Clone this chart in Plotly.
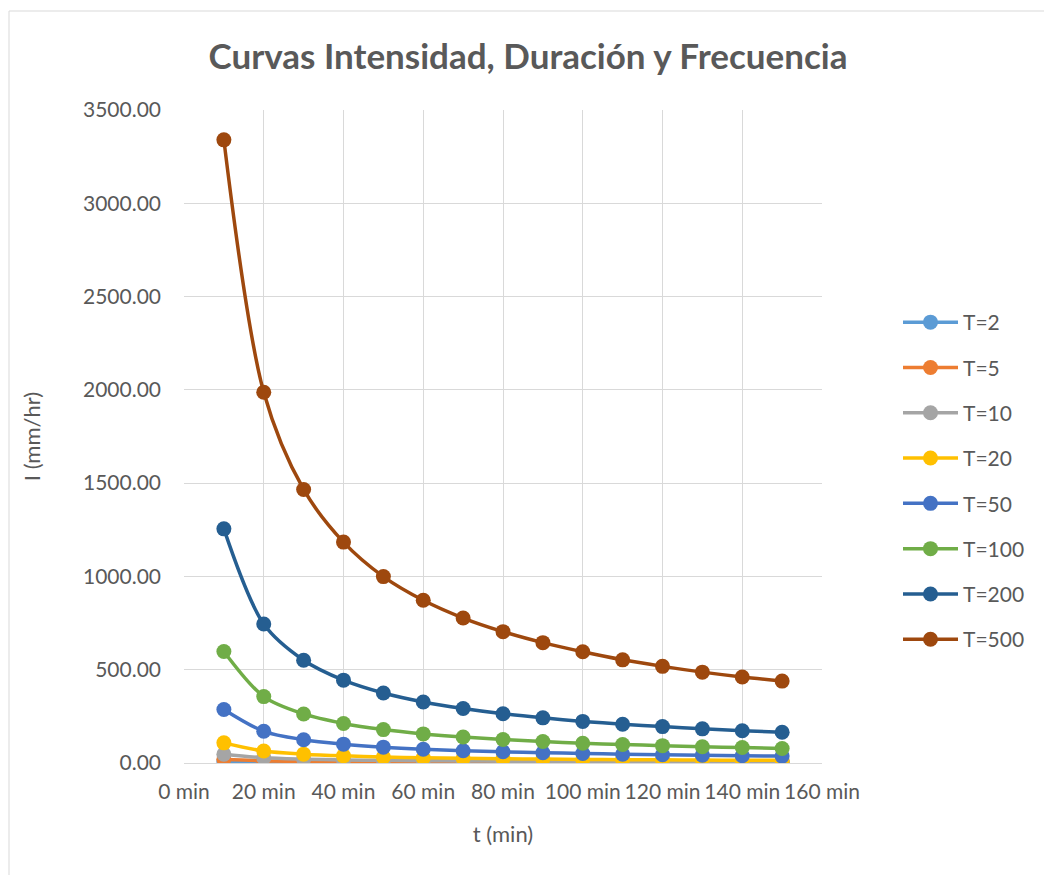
import plotly.graph_objects as go

t_min = [10, 20, 30, 40, 50, 60, 70, 80, 90, 100, 110, 120, 130, 140, 150]

series_names = ["T=2", "T=5", "T=10", "T=20", "T=50", "T=100", "T=200", "T=500"]
T2 = [8.3, 4.9, 3.6, 2.9, 2.5, 2.2, 1.9, 1.7, 1.6, 1.5, 1.4, 1.3, 1.2, 1.1, 1.1]
T5 = [20.5, 12.2, 9.0, 7.3, 6.1, 5.3, 4.8, 4.3, 4.0, 3.6, 3.4, 3.2, 3.0, 2.8, 2.7]
T10 = [47, 28, 20.6, 16.6, 14.1, 12.3, 10.9, 9.9, 9.0, 8.4, 7.8, 7.3, 6.9, 6.5, 6.2]
T20 = [108, 64, 47.4, 38.2, 32.3, 28.2, 25.1, 22.7, 20.8, 19.2, 17.9, 16.8, 15.8, 14.9, 14.2]
T50 = [287, 170, 125, 101, 85, 74, 66, 60, 55, 51, 47, 44, 42, 39, 37]
T100 = [598, 356, 263, 212, 179, 156, 139, 126, 115, 106, 99, 93, 87, 83, 78]
T200 = [1255, 745, 551, 444, 375, 327, 292, 264, 242, 223, 208, 195, 183, 173, 165]
T500 = [3340, 1987, 1466, 1184, 999, 872, 777, 704, 645, 596, 553, 518, 487, 461, 439]
series_values = [T2, T5, T10, T20, T50, T100, T200, T500]
colors = ["#5B9BD5", "#ED7D31", "#A5A5A5", "#FFC000", "#4472C4", "#70AD47", "#255E91", "#9E480E"]

x_ticks = [0, 20, 40, 60, 80, 100, 120, 140, 160]
y_ticks = [0, 500, 1000, 1500, 2000, 2500, 3000, 3500]

FONT = "Lato"
GRAY = "#595959"

fig = go.Figure()
for name, vals, col in zip(series_names, series_values, colors):
    fig.add_trace(go.Scatter(
        x=t_min, y=vals, name=name, mode="lines+markers",
        line=dict(color=col, width=3.5, shape="spline", smoothing=0.9),
        marker=dict(color=col, size=15, symbol="circle"),
        legendgroup=name,
    ))

W, H = 1044, 875
L, R, T, B = 184, 822, 110, 763
pw, ph = R - L, B - T

def px(x):
    return (x - L) / pw

def py(y):
    return (B - y) / ph

fig.update_layout(
    width=W, height=H,
    margin=dict(l=L, r=W - R, t=T, b=H - B, pad=0),
    paper_bgcolor="white", plot_bgcolor="white",
    font=dict(family=FONT, color=GRAY, size=21),
    title=dict(text="<b>Curvas Intensidad, Duración y Frecuencia</b>",
               x=528 / W, xref="container", xanchor="center",
               y=1 - 57 / H, yanchor="middle", yref="container",
               font=dict(family=FONT, size=35, color=GRAY)),
    xaxis=dict(range=[0, 160], tickvals=x_ticks, ticktext=[f"{v} min" for v in x_ticks],
               showgrid=True, gridcolor="#D9D9D9", gridwidth=1,
               showline=True, linecolor="#D9D9D9", linewidth=1,
               zeroline=False, ticks="", tickfont=dict(size=21, color=GRAY),
               ticklabelstandoff=10,
               title=dict(text="t (min)", font=dict(size=22, color=GRAY), standoff=24)),
    yaxis=dict(range=[0, 3500], tickvals=y_ticks, tickformat=".2f",
               showgrid=True, gridcolor="#D9D9D9", gridwidth=1,
               showline=False, zeroline=False, ticks="",
               tickfont=dict(size=21, color=GRAY), ticklabelstandoff=22,
               title=dict(text="I (mm/hr)", font=dict(size=22, color=GRAY), standoff=36)),
    legend=dict(x=px(898), y=py(302), xanchor="left", yanchor="top",
                traceorder="grouped", tracegroupgap=15,
                font=dict(size=21, color=GRAY), itemwidth=55,
                bgcolor="rgba(0,0,0,0)"),
    shapes=[dict(type="rect", xref="paper", yref="paper",
                 x0=px(9), x1=px(1060), y0=py(900), y1=py(11),
                 line=dict(color="#D9D9D9", width=1), fillcolor="rgba(0,0,0,0)", layer="below")],
)

fig.write_html("out.html")
